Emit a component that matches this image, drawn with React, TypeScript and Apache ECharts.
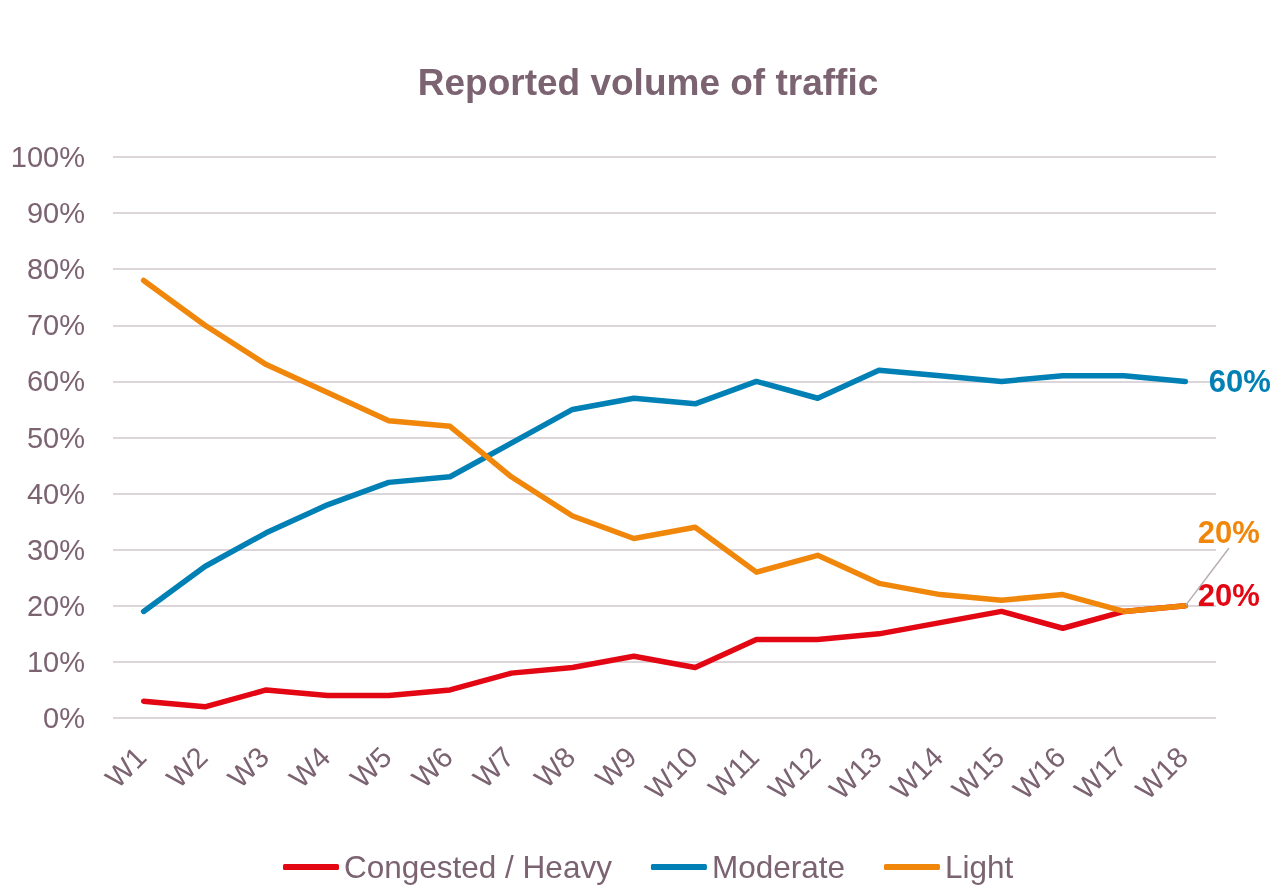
import React, { useEffect, useRef } from "react";
import * as echarts from "echarts";

const weeks = ["W1","W2","W3","W4","W5","W6","W7","W8","W9","W10","W11","W12","W13","W14","W15","W16","W17","W18"];
const congested = [3, 2, 5, 4, 4, 5, 8, 9, 11, 9, 14, 14, 15, 17, 19, 16, 19, 20];
const moderate = [19, 27, 33, 38, 42, 43, 49, 55, 57, 56, 60, 57, 62, 61, 60, 61, 61, 60];
const light = [78, 70, 63, 58, 53, 52, 43, 36, 32, 34, 26, 29, 24, 22, 21, 22, 19, 20];
const seriesNames = ["Congested / Heavy", "Moderate", "Light"];

const RED = "#e30613";
const BLUE = "#0080b4";
const ORANGE = "#f0860a";
const TEXT = "#7b6371";
const FONT = "Liberation Sans, Arial, sans-serif";

export default function App() {
  const ref = useRef<HTMLDivElement>(null);
  useEffect(() => {
    if (!ref.current) return;
    const chart = echarts.init(ref.current, null, { renderer: "svg" });
    const last = weeks.length - 1;
    const endLabel = (color: string, values: number[], distance: number) => ({
      show: true,
      position: "right",
      distance,
      formatter: values[last] + "%",
      color,
      fontWeight: "bold",
      fontSize: 31,
      fontFamily: FONT,
    });
    const mk = (name: string, values: number[], color: string, lbl: any, extra: any = {}) => ({
      name,
      type: "line",
      data: values.map((v, i) => (i === last ? { value: v, label: lbl } : v)),
      symbol: "circle",
      symbolSize: 1,
      showSymbol: true,
      showAllSymbol: true,
      lineStyle: { color, width: 5.5, cap: "round", join: "round" },
      itemStyle: { color },
      z: 3,
      ...extra,
    });
    chart.setOption({
      animation: false,
      textStyle: { fontFamily: FONT },
      title: {
        text: "Reported volume of traffic",
        left: 643,
        textAlign: "center",
        top: 59,
        textStyle: { color: TEXT, fontSize: 37, fontWeight: "bold", fontFamily: FONT },
      },
      grid: { left: 113, right: 70, top: 157, bottom: 170 },
      legend: {
        top: 846,
        left: 278,
        icon: "roundRect",
        itemWidth: 56,
        itemHeight: 6,
        itemGap: 39,
        textStyle: { color: TEXT, fontSize: 31.5, fontFamily: FONT },
        data: seriesNames,
      },
      xAxis: {
        type: "category",
        data: weeks,
        boundaryGap: true,
        axisLine: { show: false },
        axisTick: { show: false },
        axisLabel: {
          color: TEXT,
          fontSize: 29,
          rotate: 45,
          margin: 11,
          verticalAlign: "top",
          padding: [0, 18, 0, 0],
          fontFamily: FONT,
        },
      },
      yAxis: {
        type: "value",
        min: 0,
        max: 100,
        interval: 10,
        axisLine: { show: false },
        axisTick: { show: false },
        splitLine: { lineStyle: { color: "#dcd6da", width: 2 } },
        axisLabel: { color: TEXT, fontSize: 29, margin: 28, formatter: "{value}%", fontFamily: FONT },
      },
      series: [
        mk(seriesNames[0], congested, RED, { ...endLabel(RED, congested, 12), offset: [0, -10] }),
        mk(seriesNames[1], moderate, BLUE, endLabel(BLUE, moderate, 23)),
        mk(seriesNames[2], light, ORANGE, endLabel(ORANGE, light, 12), {
          labelLine: { show: true, lineStyle: { color: "#b9adb4", width: 1.5 } },
          labelLayout: (p: any) => (p.dataIndex === last ? { dx: 0, dy: -73 } : {}),
        }),
      ],
    });
    return () => chart.dispose();
  }, []);
  return (
    <div
      ref={ref}
      style={{ position: "fixed", left: 0, top: 0, width: 1286, height: 888 }}
    />
  );
}
